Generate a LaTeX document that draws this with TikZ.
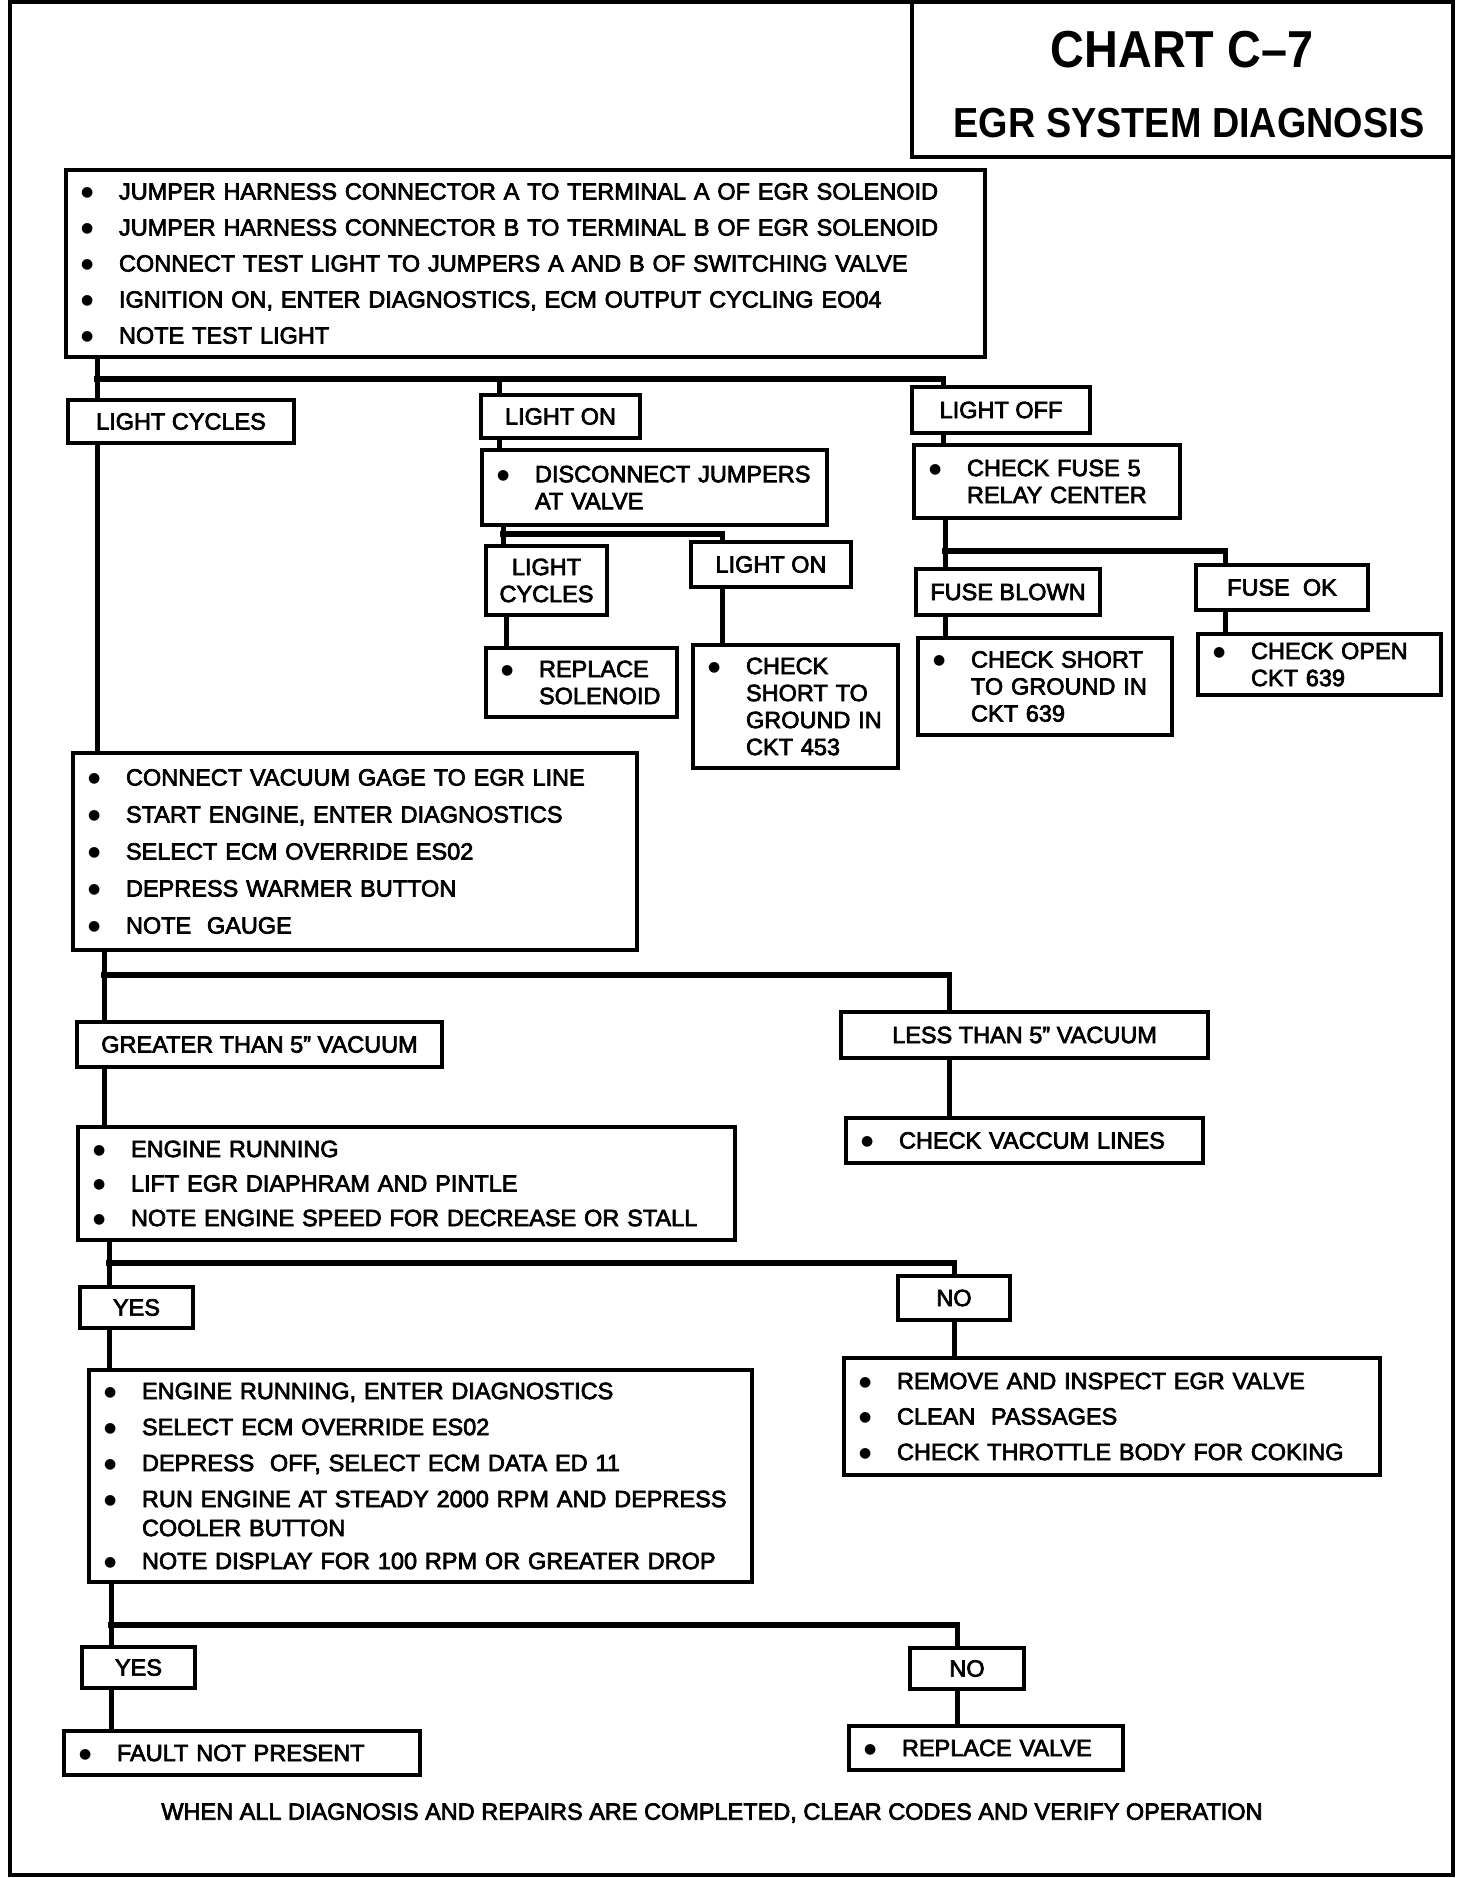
\documentclass[tikz,border=0pt]{standalone}
\usepackage{fontspec}
\setmainfont{Liberation Sans}[FakeBold=3]
\newfontfamily\titlefont{Liberation Sans Bold}[FakeStretch=0.9]
\newfontfamily\dotfont{DejaVu Sans}
\usepackage{tikz}
\usetikzlibrary{calc, positioning}
\newcommand{\chartfont}{\fontsize{23.5}{27}\selectfont}
\newcommand{\itm}[1]{\mbox{\makebox[38pt][l]{\raisebox{3pt}{\dotfont\fontsize{14}{14}\selectfont ●}}#1}}
\newcommand{\cnt}[1]{\mbox{\hspace*{38pt}#1}}
\tikzset{
    boxnode/.style = {draw, rectangle, line width=3.3pt, inner sep=0pt, node distance=0pt, font=\chartfont},
    listnode/.style = {boxnode, align=left, inner xsep=15pt},
    labelnode/.style = {boxnode, align=center},
    textnode/.style = {draw=none, fill=none, rectangle, inner sep=0pt, node distance=0pt},
    link/.style = {black, -, line width=5pt},
    splitbar/.style = {black, -, line width=6pt, line cap=rect},
    frame/.style = {black, line width=4pt}
}
\begin{document}
\begin{tikzpicture}[node distance=0pt]
    \useasboundingbox (0pt,0pt) rectangle (1456pt,-1878pt);
    \draw[frame] (10pt,-2pt) rectangle (1453pt,-1875pt);
    \draw[frame] (912pt,-2pt) |- (1453pt,-157pt);

    \node [name=b1, listnode, text width=889pt, minimum height=187pt] at (525.5pt,-263.5pt)
        {\itm{JUMPER HARNESS CONNECTOR A TO TERMINAL A OF EGR SOLENOID}\\[9pt]
         \itm{JUMPER HARNESS CONNECTOR B TO TERMINAL B OF EGR SOLENOID}\\[9pt]
         \itm{CONNECT TEST LIGHT TO JUMPERS A AND B OF SWITCHING VALVE}\\[9pt]
         \itm{IGNITION ON, ENTER DIAGNOSTICS, ECM OUTPUT CYCLING EO04}\\[9pt]
         \itm{NOTE TEST LIGHT}};
    \node [name=chart, textnode, font={\titlefont\fontsize{52}{60}\selectfont}, above of=b1, xshift=656.5pt, yshift=213.5pt] {CHART C–7};
    \node [name=egr, textnode, font={\titlefont\fontsize{42}{50}\selectfont}, below of=chart, xshift=7pt, yshift=-73pt] {EGR SYSTEM DIAGNOSIS};

    % test light results
    \node [name=lc1, labelnode, minimum width=226pt, minimum height=43pt, below of=b1, xshift=-344.5pt, yshift=-158pt] {LIGHT CYCLES};
    \node [name=lon1, labelnode, minimum width=159pt, minimum height=43pt, below of=b1, xshift=35pt, yshift=-153pt] {LIGHT ON};
    \node [name=loff, labelnode, minimum width=178pt, minimum height=46pt, below of=b1, xshift=475.5pt, yshift=-146.5pt] {LIGHT OFF};
    \coordinate (s1) at ($(b1.south west)+(33pt,-20pt)$);
    \coordinate (d1) at ($(lon1.north west)+(20pt,0pt)$);
    \coordinate (d2) at ($(loff.north west)+(33pt,0pt)$);
    \draw[link] (s1 |- b1.south) -- (s1 |- lc1.north);
    \draw[splitbar] (s1) -- (s1 -| d2);
    \draw[link] (s1 -| d1) -- (d1);
    \draw[link] (s1 -| d2) -- (d2);

    % light on
    \node [name=discon, listnode, text width=315pt, minimum height=75pt, below of=lon1, xshift=94pt, yshift=-71pt]
        {\itm{DISCONNECT JUMPERS}\\\cnt{AT VALVE}};
    \node [name=lc2, labelnode, minimum width=121pt, minimum height=69pt, below of=discon, xshift=-108pt, yshift=-93pt] {LIGHT\\CYCLES};
    \node [name=lon2, labelnode, minimum width=160pt, minimum height=45pt, below of=discon, xshift=116.5pt, yshift=-77pt] {LIGHT ON};
    \node [name=repl, listnode, text width=161pt, minimum height=69pt, below of=lc2, xshift=35pt, yshift=-102pt]
        {\itm{REPLACE}\\\cnt{SOLENOID}};
    \node [name=short453, listnode, text width=175pt, minimum height=123pt, below of=lon2, xshift=24.5pt, yshift=-142pt]
        {\itm{CHECK}\\\cnt{SHORT TO}\\\cnt{GROUND IN}\\\cnt{CKT 453}};
    \draw[link] (d1 |- lon1.south) -- (d1 |- discon.north);
    \coordinate (s2) at ($(discon.south west)+(23pt,-7pt)$);
    \coordinate (d3) at ($(lon2.north west)+(33pt,0pt)$);
    \draw[link] (s2 |- discon.south) -- (s2 |- lc2.north);
    \draw[splitbar] (s2) -- (s2 -| d3);
    \draw[link] (s2 -| d3) -- (d3);
    \draw[link] ($(lc2.south west)+(22pt,0pt)$) -- ($(repl.north west)+(22pt,0pt)$);
    \draw[link] (d3 |- lon2.south) -- (d3 |- short453.north);

    % light off
    \node [name=fuse, listnode, text width=236pt, minimum height=73pt, below of=loff, xshift=46pt, yshift=-71.5pt]
        {\itm{CHECK FUSE 5}\\\cnt{RELAY CENTER}};
    \node [name=blown, labelnode, minimum width=184pt, minimum height=46pt, below of=fuse, xshift=-39pt, yshift=-110.5pt] {FUSE BLOWN};
    \node [name=fuseok, labelnode, minimum width=172pt, minimum height=45pt, below of=fuse, xshift=235pt, yshift=-106pt] {FUSE\ \ OK};
    \node [name=short639, listnode, text width=224pt, minimum height=97pt, below of=blown, xshift=37pt, yshift=-94.5pt]
        {\itm{CHECK SHORT}\\\cnt{TO GROUND IN}\\\cnt{CKT 639}};
    \node [name=open639, listnode, text width=213pt, minimum height=61pt, below of=fuseok, xshift=37.5pt, yshift=-77pt]
        {\itm{CHECK OPEN}\\\cnt{CKT 639}};
    \draw[link] (d2 |- loff.south) -- (d2 |- fuse.north);
    \coordinate (s3) at ($(fuse.south west)+(33pt,-31pt)$);
    \coordinate (d4) at ($(fuseok.north west)+(31pt,0pt)$);
    \draw[link] (s3 |- fuse.south) -- (s3 |- blown.north);
    \draw[splitbar] (s3) -- (s3 -| d4);
    \draw[link] (s3 -| d4) -- (d4);
    \draw[link] (s3 |- blown.south) -- (s3 |- short639.north);
    \draw[link] (d4 |- fuseok.south) -- (d4 |- open639.north);

    % vacuum test
    \node [name=vac, listnode, text width=534pt, minimum height=197pt, below of=lc1, xshift=174pt, yshift=-430pt]
        {\itm{CONNECT VACUUM GAGE TO EGR LINE}\\[10pt]
         \itm{START ENGINE, ENTER DIAGNOSTICS}\\[10pt]
         \itm{SELECT ECM OVERRIDE ES02}\\[10pt]
         \itm{DEPRESS WARMER BUTTON}\\[10pt]
         \itm{NOTE\ \ GAUGE}};
    \draw[link] (s1 |- lc1.south) -- (s1 |- vac.north);
    \node [name=gt5, labelnode, minimum width=365pt, minimum height=45pt, below of=vac, xshift=-95.5pt, yshift=-193pt] {GREATER THAN 5" VACUUM};
    \node [name=lt5, labelnode, minimum width=367pt, minimum height=46pt, below of=vac, xshift=669.5pt, yshift=-183.5pt] {LESS THAN 5" VACUUM};
    \node [name=run, listnode, text width=627pt, minimum height=113pt, below of=gt5, xshift=147pt, yshift=-139pt]
        {\itm{ENGINE RUNNING}\\[7.5pt]
         \itm{LIFT EGR DIAPHRAM AND PINTLE}\\[7.5pt]
         \itm{NOTE ENGINE SPEED FOR DECREASE OR STALL}};
    \node [name=vlines, listnode, text width=327pt, minimum height=45pt, below of=lt5, yshift=-105.5pt] {\itm{CHECK VACCUM LINES}};
    \coordinate (s4) at ($(vac.south west)+(33pt,-23pt)$);
    \coordinate (d5) at ($(lt5.north west)+(110pt,0pt)$);
    \draw[link] (s4 |- vac.south) -- (s4 |- gt5.north);
    \draw[splitbar] (s4) -- (s4 -| d5);
    \draw[link] (s4 -| d5) -- (d5);
    \draw[link] (s4 |- gt5.south) -- (s4 |- run.north);
    \draw[link] (d5 |- lt5.south) -- (d5 |- vlines.north);

    % engine speed
    \node [name=yes1, labelnode, minimum width=113pt, minimum height=41pt, below of=run, xshift=-270pt, yshift=-124pt] {YES};
    \node [name=no1, labelnode, minimum width=112pt, minimum height=44pt, below of=run, xshift=547.5pt, yshift=-114.5pt] {NO};
    \node [name=ecm, listnode, text width=633pt, minimum height=212pt, below of=yes1, xshift=284pt, yshift=-168.5pt]
        {\itm{ENGINE RUNNING, ENTER DIAGNOSTICS}\\[9pt]
         \itm{SELECT ECM OVERRIDE ES02}\\[9pt]
         \itm{DEPRESS\ \ OFF, SELECT ECM DATA ED 11}\\[9pt]
         \itm{RUN ENGINE AT STEADY 2000 RPM AND DEPRESS}\\[2pt]
         \cnt{COOLER BUTTON}\\[6pt]
         \itm{NOTE DISPLAY FOR 100 RPM OR GREATER DROP}};
    \node [name=remove, listnode, text width=506pt, minimum height=117pt, below of=no1, xshift=158pt, yshift=-118.5pt]
        {\itm{REMOVE AND INSPECT EGR VALVE}\\[8.5pt]
         \itm{CLEAN\ \ PASSAGES}\\[8.5pt]
         \itm{CHECK THROTTLE BODY FOR COKING}};
    \coordinate (s5) at ($(run.south west)+(33pt,-21pt)$);
    \draw[link] (s5 |- run.south) -- (s5 |- yes1.north);
    \draw[splitbar] (s5) -- (s5 -| no1.north);
    \draw[link] (s5 -| no1.north) -- (no1.north);
    \draw[link] (s5 |- yes1.south) -- (s5 |- ecm.north);
    \draw[link] (no1.south) -- (no1.south |- remove.north);

    % rpm drop
    \node [name=yes2, labelnode, minimum width=113pt, minimum height=41pt, below of=ecm, xshift=-282pt, yshift=-191.5pt] {YES};
    \node [name=no2, labelnode, minimum width=114pt, minimum height=41pt, below of=ecm, xshift=546.5pt, yshift=-192.5pt] {NO};
    \node [name=fault, listnode, text width=326pt, minimum height=44pt, below of=yes2, xshift=103.5pt, yshift=-85.5pt] {\itm{FAULT NOT PRESENT}};
    \node [name=replv, listnode, text width=244pt, minimum height=44pt, below of=no2, xshift=19pt, yshift=-79.5pt] {\itm{REPLACE VALVE}};
    \coordinate (s6) at ($(ecm.south west)+(24pt,-41pt)$);
    \coordinate (d6) at ($(no2.north)+(-10pt,0pt)$);
    \draw[link] (s6 |- ecm.south) -- (s6 |- yes2.north);
    \draw[splitbar] (s6) -- (s6 -| d6);
    \draw[link] (s6 -| d6) -- (d6);
    \draw[link] (s6 |- yes2.south) -- (s6 |- fault.north);
    \draw[link] (d6 |- no2.south) -- (d6 |- replv.north);

    \node [name=note, textnode, font=\chartfont, below of=fault, xshift=470pt, yshift=-60pt]
        {WHEN ALL DIAGNOSIS AND REPAIRS ARE COMPLETED, CLEAR CODES AND VERIFY OPERATION};
\end{tikzpicture}
\end{document}
